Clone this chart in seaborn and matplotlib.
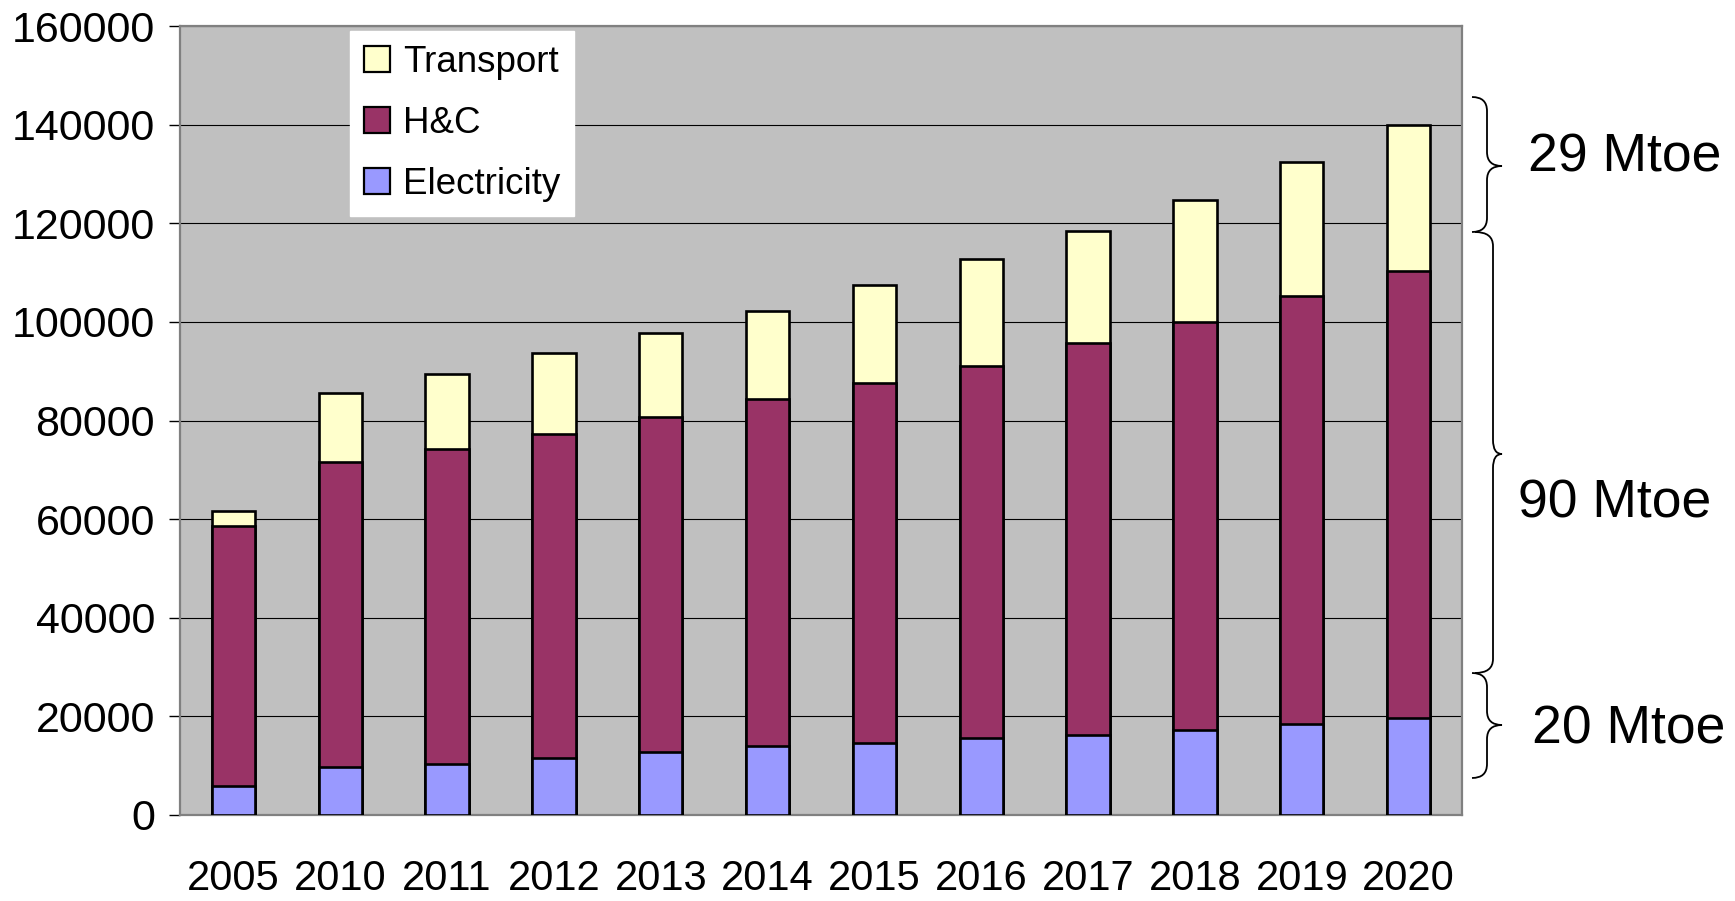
import matplotlib
matplotlib.use("Agg")
import matplotlib.pyplot as plt
from matplotlib.patches import Patch, PathPatch
from matplotlib.path import Path
import numpy as np
import pandas as pd
import seaborn as sns

years = ["2005", "2010", "2011", "2012", "2013", "2014", "2015", "2016", "2017", "2018", "2019", "2020"]
electricity = [5800, 9800, 10400, 11500, 12800, 13900, 14600, 15600, 16300, 17300, 18500, 19700]
heating_cooling = [52900, 61700, 63900, 65800, 68000, 70400, 73100, 75500, 79500, 82600, 86700, 90700]
transport = [3000, 14000, 15200, 16300, 17000, 18000, 19700, 21700, 22700, 24900, 27200, 29600]
series_names = ["Transport", "H&C", "Electricity"]
y_ticks = [0, 20000, 40000, 60000, 80000, 100000, 120000, 140000, 160000]
brace_labels = ["29 Mtoe", "90 Mtoe", "20 Mtoe"]

colors = {"Transport": "#FFFFCC", "H&C": "#993366", "Electricity": "#9999FF"}

sns.set_style("white")
plt.rcParams["font.family"] = ["Liberation Sans", "DejaVu Sans"]
plt.rcParams["text.color"] = "black"
plt.rcParams["xtick.color"] = "black"
plt.rcParams["ytick.color"] = "black"
plt.rcParams["xtick.labelcolor"] = "black"
plt.rcParams["ytick.labelcolor"] = "black"

df = pd.DataFrame({"year": years, "Electricity": electricity,
                   "H&C": heating_cooling, "Transport": transport})
df["lvl_elec"] = df["Electricity"]
df["lvl_hc"] = df["Electricity"] + df["H&C"]
df["lvl_total"] = df["lvl_hc"] + df["Transport"]

W, H = 1735, 901
fig = plt.figure(figsize=(W / 100, H / 100), dpi=100)
ax = fig.add_axes([180 / W, (H - 815) / H, (1462 - 180) / W, (815 - 26) / H])
ax.set_facecolor("#C0C0C0")
ax.set_axisbelow(True)
ax.yaxis.grid(True, color="black", linewidth=0.8)
ax.xaxis.grid(False)

bw = 0.405
for col, name in [("lvl_total", "Transport"), ("lvl_hc", "H&C"), ("lvl_elec", "Electricity")]:
    sns.barplot(data=df, x="year", y=col, color=colors[name], width=bw,
                edgecolor="black", linewidth=1.9, saturation=1, ax=ax, zorder=3)

ax.set_xlim(-0.5, len(years) - 0.5)
ax.set_ylim(0, 160000)
ax.set_yticks(y_ticks)
ax.set_yticklabels([str(v) for v in y_ticks], fontsize=31)
ax.set_xlabel("")
ax.set_ylabel("")
ax.set_xticks(range(len(years)))
ax.set_xticklabels(years, fontsize=30)
ax.set_xticks(np.arange(-0.5, len(years), 1.0), minor=True)
ax.tick_params(axis="x", which="major", length=0, pad=32)
ax.tick_params(axis="x", which="minor", length=11, width=1, color="black", direction="out")
ax.tick_params(axis="y", which="major", length=8, width=1, color="black", direction="out", pad=10)
ax.tick_params(left=True, bottom=True)
for s in ["top", "right", "left", "bottom"]:
    ax.spines[s].set_visible(True)
    ax.spines[s].set_color("#808080")
    ax.spines[s].set_linewidth(1.6)

handles = [Patch(facecolor=colors[n], edgecolor="black", linewidth=1.6) for n in series_names]
leg = fig.legend(handles, series_names, loc="upper left",
                 bbox_to_anchor=(350 / W, 1 - 31 / H), bbox_transform=fig.transFigure,
                 fontsize=26.5, frameon=True, fancybox=False, framealpha=1,
                 edgecolor="white", facecolor="white", handlelength=0.7,
                 handleheight=0.7, handletextpad=0.35, labelspacing=0.7,
                 borderpad=0.38, borderaxespad=0)


def brace(x0, spine_x, tip_x, y_top, y_tip, y_bot, r=14):
    def fx(px):
        return px / W

    def fy(py):
        return 1 - py / H

    verts = [
        (x0, y_top), (spine_x, y_top), (spine_x, y_top + r),
        (spine_x, y_tip - r),
        (spine_x, y_tip), (tip_x, y_tip),
        (spine_x, y_tip), (spine_x, y_tip + r),
        (spine_x, y_bot - r),
        (spine_x, y_bot), (x0, y_bot),
    ]
    codes = [Path.MOVETO, Path.CURVE3, Path.CURVE3, Path.LINETO,
             Path.CURVE3, Path.CURVE3, Path.CURVE3, Path.CURVE3,
             Path.LINETO, Path.CURVE3, Path.CURVE3]
    verts = [(fx(a), fy(b)) for a, b in verts]
    fig.add_artist(PathPatch(Path(verts, codes), transform=fig.transFigure,
                             facecolor="none", edgecolor="black", linewidth=1.3))


brace(1472, 1487, 1502, 97, 166, 232)
brace(1475, 1493, 1502, 232, 454, 673)
brace(1472, 1487, 1502, 673, 725, 778)

fig.text(1625 / W, 1 - 158 / H, brace_labels[0], fontsize=38.5, ha="center", va="center")
fig.text(1615 / W, 1 - 503 / H, brace_labels[1], fontsize=38.5, ha="center", va="center")
fig.text(1629 / W, 1 - 730 / H, brace_labels[2], fontsize=38.5, ha="center", va="center")

fig.savefig("out.png", dpi=100, facecolor="white")
